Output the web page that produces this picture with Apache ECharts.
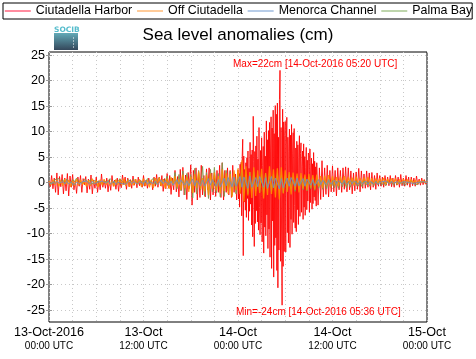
<!DOCTYPE html>
<html><head><meta charset="utf-8">
<script src="https://cdn.jsdelivr.net/npm/echarts@6/dist/echarts.min.js"></script>
<style>html,body{margin:0;padding:0;background:#fff}#c{width:476px;height:359px}</style>
</head><body><div id="c"></div>
<script>
const seriesNames = ['Ciutadella Harbor', 'Off Ciutadella', 'Menorca Channel', 'Palma Bay'];
const xTickDates = ['13-Oct-2016', '13-Oct', '14-Oct', '14-Oct', '15-Oct'];
const xTickTimes = ['00:00 UTC', '12:00 UTC', '00:00 UTC', '12:00 UTC', '00:00 UTC'];
const yTicks = [-25, -20, -15, -10, -5, 0, 5, 10, 15, 20, 25];
const maxLabel = 'Max=22cm [14-Oct-2016 05:20 UTC]';
const minLabel = 'Min=-24cm [14-Oct-2016 05:36 UTC]';
// sampling (minutes) and segment starts (hours from 13-Oct-2016 00:00 UTC)
const harborEarlyStart = 0, harborEarlyStepMin = 10;
const harborBurstStart = 24, harborBurstStepMin = 4;
const harborLateStart = 34, harborLateStepMin = 10;
const otherStepMin = 15;

// Ciutadella Harbor, 13-Oct 00:00 - 13-Oct 23:50, every 10 min
const harborEarly = [
0.3,-0.8,1.4,-1.2,0.9,-1.9, 1.9,-2.4,1.2,-0.8,1.6,-2.2, 0.9,-1.6,1.8,-2.6,1.3,-0.9,
1.6,-1.4,0.4,-2.1,1.1,-0.7, 1.4,-1.9,0.8,-0.4,1.2,-2.0, 0.7,-1.3,1.5,-2.2,0.5,-1.1,
1.1,-1.9,0.4,-1.4,1.7,-0.9, 0.4,-1.1,0.9,-1.8,0.7,-1.5, 1.4,-0.7,0.5,-1.3,0.9,-1.7,
0.7,-1.0,1.5,-0.4,1.1,-1.3, 0.9,-0.8,0.6,-1.1,1.3,-0.5, 0.7,-1.0,1.1,-0.6,0.4,-0.9,
1.4,-0.7,0.5,-1.1,0.9,-0.4, 0.5,-1.4,1.1,-0.7,1.6,-0.9, 1.1,-0.6,1.4,-1.7,0.8,-1.2,
1.8,-1.0,1.4,-2.3,0.9,-1.4, 2.4,-1.8,1.2,-2.8,2.6,-1.5, 3.0,-2.4,1.5,-3.3,2.0,-1.1,
3.5,-4.4,2.4,-1.9,2.9,-3.4, 2.0,-2.9,3.4,-2.4,1.4,-2.8, 2.7,-1.4,2.9,-3.4,1.9,-2.4,
1.4,-2.7,2.4,-1.9,3.4,-2.9, 3.9,-3.4,2.4,-1.9,2.9,-2.4, 2.4,-2.9,3.4,-1.9,1.7,-3.4
];
// Ciutadella Harbor, 14-Oct 00:00 - 09:56, every 4 min
const harborBurst = [
2.5,-3.2,1.8,-4.8,3.6,-2.1,4.0,-6.5,5.1,8.5,-14.3,5.2,-3.8,2.6,-5.4,
3.9,-6.8,4.9,-3.1,6.2,-7.4,2.8,-5.6,7.9,-4.2,5.5,-8.3,6.4,-10.6,13.0,
4.1,-12.5,6.1,-8.0,7.2,-5.5,9.1,-7.7,4.6,-9.3,10.8,-4.9,-10.2,6.3,-7.9,
8.8,-11.6,3.4,7.1,-13.8,9.9,-8.7,5.2,-10.4,12.1,-6.3,8.4,-12.9,10.2,-9.1,
11.8,-14.6,6.2,12.9,-16.8,10.7,-7.5,14.2,-18.5,9.6,-12.3,15.1,-10.8,13.4,-17.2,
15.6,-20.6,8.9,-13.2,16.3,22.0,-15.4,10.8,-9.9,-24.0,14.4,-16.4,11.9,-13.5,9.2,
12.0,-13.6,7.4,12.8,-9.8,8.9,-11.8,6.1,10.5,-12.7,9.3,-7.2,11.4,-10.1,5.8,
9.8,-7.8,10.6,-4.5,-8.9,6.8,-9.6,8.1,-5.3,7.4,-8.2,4.9,9.2,-6.6,5.7,
7.8,-5.8,3.2,6.2,-7.2,7.6,-4.8,5.1,-6.4,2.9,6.9,-5.3,4.4,-3.6,5.8,
5.4,-5.8,6.6,-3.9,2.1,4.8,-5.2,3.7,-4.1,5.9,-2.8,4.2,-3.5,3.1,-4.6
];
// Ciutadella Harbor, 14-Oct 10:00 - 15-Oct 00:00, every 10 min
const harborLate = [
3.9,-4.4,2.9,-3.3,4.3,-2.8, 2.9,-2.3,3.4,-2.8,2.4,-1.8,
3.3,-1.8,2.4,-2.6,2.9,-1.4, 2.4,-1.9,2.9,-1.3,3.1,-1.8, 2.9,-1.4,2.3,-2.2,1.9,-1.6,
2.1,-1.3,2.8,-1.8,2.3,-1.1, 1.7,-1.1,2.3,-0.9,1.9,-1.4, 2.0,-0.9,1.4,-1.3,1.9,-0.7,
1.4,-0.7,1.1,-0.9,1.4,-0.5, 1.1,-0.6,1.4,-0.8,0.9,-0.9, 1.4,-0.5,1.1,-0.9,1.6,-0.6,
0.9,-0.7,1.4,-0.5,1.1,-0.9, 1.1,-0.6,0.9,-0.7,1.3,-0.4, 0.7,-0.5,0.9,-0.4,0.6,-0.3,
0.2
];

const offCiutadella = [
0.3,-0.5,0.6,-0.4, 0.5,-0.7,0.4,-0.6, 0.7,-0.3,0.5,-0.8, 0.4,-0.6,0.7,-0.5,
0.6,-0.4,0.3,-0.7, 0.5,-0.6,0.8,-0.3, 0.4,-0.8,0.6,-0.5, 0.7,-0.4,0.5,-0.6,
0.3,-0.7,0.6,-0.4, 0.6,-0.5,0.8,-0.6, 0.5,-0.8,0.4,-0.5, 0.7,-0.4,0.6,-0.8,
0.8,-0.6,0.5,-0.9, 0.6,-1.0,0.9,-0.5, 1.0,-0.7,0.6,-1.1, 0.8,-1.2,1.1,-0.6,
1.3,-0.9,0.7,-1.4, 1.6,-1.1,1.2,-1.8, 1.2,-2.0,1.7,-1.0, 2.2,-1.3,0.9,-1.7,
1.5,-2.4,1.8,-1.2, 2.0,-1.5,1.3,-2.1, 2.6,-1.6,1.9,-2.2, 1.7,-2.8,2.4,-1.5,
2.8,-2.2,4.4,-3.7, 3.2,-2.5,2.1,-3.0, 3.0,-2.6,2.4,-2.0, 2.7,-3.1,1.9,-2.4,
3.2,-2.2,2.6,-2.9, 2.8,-3.3,3.0,-2.1, 2.4,-1.8,2.1,-2.3, 2.0,-1.4,1.8,-1.9,
1.9,-1.2,1.6,-1.5, 1.7,-1.0,1.5,-1.3, 1.6,-0.8,1.3,-1.1, 1.4,-0.6,1.5,-0.9,
1.3,-0.5,1.1,-0.7, 1.2,-0.4,1.3,-0.6, 1.1,-0.3,1.0,-0.5, 1.2,-0.4,0.9,-0.3,
1.0,-0.2,1.1,-0.4, 0.9,-0.3,0.8,-0.2, 0.8,-0.1,0.9,-0.3, 0.7,-0.2,0.8,-0.1,
0.8,-0.3,0.6,-0.2, 0.7,0.0,0.6,-0.2, 0.6,-0.1,0.5,-0.2, 0.4,0.0,0.5,-0.1,
0.2
];

const menorcaChannel = [
0.1,-0.3,0.2,-0.2, 0.3,-0.1,-0.4,0.2, -0.2,0.3,-0.3,0.1, 0.2,-0.4,0.1,-0.2,
-0.3,0.2,-0.1,0.3, 0.1,-0.3,0.3,-0.2, -0.4,0.1,-0.2,0.3, 0.2,-0.1,0.4,-0.3,
-0.2,0.3,-0.4,0.1, 0.3,-0.2,0.1,-0.3, -0.1,0.4,-0.2,0.2, 0.3,-0.3,0.2,-0.1,
-0.2,0.4,-0.3,0.2, 0.4,-0.2,0.3,-0.4, -0.3,0.5,-0.2,0.3, 0.5,-0.4,0.3,-0.5,
-0.4,0.6,-0.3,0.5, 0.6,-0.5,0.4,-0.6, -0.5,0.7,-0.6,0.4, 0.7,-0.6,0.5,-0.7,
-0.6,0.8,-0.5,0.6, 0.8,-0.7,0.6,-0.8, -0.7,0.9,-0.6,1.0, 0.9,-0.8,1.1,-0.7,
-1.0,1.2,-0.9,1.1, 1.0,-1.1,1.3,-0.9, -1.2,1.0,-0.8,1.2, 1.1,-0.9,1.0,-1.1,
-0.9,1.2,-1.0,0.9, 1.0,-1.2,0.8,-1.0, -0.8,0.9,-0.7,1.0, 0.8,-0.7,0.9,-0.6,
-0.6,0.8,-0.7,0.7, 0.7,-0.5,0.6,-0.6, -0.5,0.6,-0.4,0.5, 0.5,-0.4,0.6,-0.3,
-0.4,0.5,-0.3,0.4, 0.4,-0.3,0.5,-0.4, -0.3,0.4,-0.2,0.3, 0.3,-0.3,0.4,-0.2,
-0.2,0.3,-0.3,0.2, 0.3,-0.2,0.2,-0.3, -0.2,0.2,-0.1,0.3, 0.2,-0.2,0.3,-0.1,
-0.1,0.2,-0.2,0.1, 0.2,-0.1,0.1,-0.2, -0.1,0.2,-0.1,0.1, 0.1,-0.1,0.2,0.0,
0.0
];

const palmaBay = [
0.2,0.5,-0.2,0.6, 0.3,0.8,0.1,0.6, -0.2,0.7,0.4,-0.1, 0.6,0.2,0.9,0.3,
0.5,-0.2,0.7,0.4, 0.1,0.6,-0.3,0.4, 0.7,0.2,0.5,-0.2, 0.3,0.6,0.1,0.8,
0.4,-0.1,0.6,0.2, 0.8,0.3,0.5,-0.2, 0.6,0.9,0.2,0.7, 0.3,-0.3,0.6,0.2,
0.5,0.1,0.8,-0.2, 0.4,0.9,-0.3,0.6, 1.0,-0.4,0.7,0.2, 1.3,-0.8,0.9,-0.5,
2.0,-1.2,1.6,-1.6, 2.3,-2.4,1.8,-1.2, 1.6,-3.0,2.8,-2.2, 2.4,-1.4,3.2,-2.6,
2.0,-3.1,2.6,-1.8, 3.0,-2.0,1.8,-2.8, 3.9,-2.7,2.4,-1.6, 2.2,-2.5,1.5,-2.2,
1.8,-1.4,2.9,-2.0, 1.5,-2.2,2.1,-1.3, 2.0,-1.6,1.4,-1.9, 1.6,-2.1,1.9,-1.2,
1.3,-1.8,1.6,-1.5, 1.8,-1.2,1.4,-2.0, 1.2,-1.5,1.6,-1.1, 1.0,-1.7,1.2,-1.3,
0.8,-1.4,1.1,-1.6, 0.6,-1.2,0.9,-1.5, 0.7,-1.1,0.5,-1.3, 0.4,-1.2,0.6,-0.9,
0.5,-1.0,0.3,-1.1, 0.6,-0.8,0.4,-1.0, 0.3,-0.9,0.5,-0.6, 0.4,-0.7,0.2,-0.8,
0.5,-0.5,0.3,-0.7, 0.2,-0.6,0.4,-0.4, 0.3,-0.5,0.1,-0.6, 0.4,-0.3,0.2,-0.5,
0.1,-0.4,0.3,-0.3, 0.2,-0.5,0.0,-0.3, 0.3,-0.2,0.1,-0.4, 0.0,-0.3,0.2,-0.1,
0.1
];

const lineColors = ['#ff0000', '#ff8c00', '#6f8fbf', '#7f9a50'];
const legendColors = ['#ff7088', '#ffbf80', '#a6c0e2', '#aecb98'];

function toPoints(arr, startHour, stepMin) {
  return arr.map((v, i) => [startHour + i * stepMin / 60, v]);
}

const chart = echarts.init(document.getElementById('c'), null, { renderer: 'canvas' });
const font = '"Liberation Sans", Helvetica, Arial, sans-serif';
const seriesData = {
  'Ciutadella Harbor': toPoints(harborEarly, harborEarlyStart, harborEarlyStepMin)
    .concat(toPoints(harborBurst, harborBurstStart, harborBurstStepMin))
    .concat(toPoints(harborLate, harborLateStart, harborLateStepMin)),
  'Off Ciutadella': toPoints(offCiutadella, 0, otherStepMin),
  'Menorca Channel': toPoints(menorcaChannel, 0, otherStepMin),
  'Palma Bay': toPoints(palmaBay, 0, otherStepMin)
};
const drawOrder = ['Ciutadella Harbor', 'Palma Bay', 'Off Ciutadella', 'Menorca Channel'];

const option = {
  animation: false,
  backgroundColor: '#fff',
  title: {
    text: 'Sea level anomalies (cm)',
    left: 'center', top: 27, padding: 0,
    textStyle: { fontSize: 17, fontWeight: 'normal', color: '#000', fontFamily: font }
  },
  legend: {
    left: 3, top: 3, width: 476, padding: [2, 0, 2, 1],
    borderColor: '#000', borderWidth: 1,
    itemWidth: 26, itemHeight: 10, itemGap: 4,
    textStyle: { fontSize: 12.4, color: '#000', fontFamily: font },
    itemStyle: { opacity: 0 },
    data: seriesNames.map((n, i) => ({ name: n, lineStyle: { color: legendColors[i], width: 1.6, opacity: 1 } }))
  },
  grid: { left: 49, right: 49, top: 52, bottom: 37, show: true, borderColor: '#000', borderWidth: 1, containLabel: false },
  xAxis: [{
    type: 'value', min: 0, max: 48, interval: 3,
    axisLine: { show: false },
    axisTick: { inside: true, length: 3, lineStyle: { color: '#999' } },
    splitLine: { show: true, lineStyle: { color: '#c8c8c8', type: [1, 3], width: 1 } },
    axisLabel: {
      margin: 3, showMinLabel: true, showMaxLabel: true, interval: 0,
      formatter: v => (v % 12 === 0 ? '{a|' + xTickDates[v / 12] + '}\n{b|' + xTickTimes[v / 12] + '}' : ''),
      rich: {
        a: { fontSize: 12.6, color: '#000', fontFamily: font, lineHeight: 15 },
        b: { fontSize: 10, color: '#000', fontFamily: font, lineHeight: 12 }
      }
    }
  }, {
    type: 'value', min: 0, max: 48, interval: 3, position: 'top',
    axisLine: { show: false },
    axisTick: { inside: true, length: 3, lineStyle: { color: '#999' } },
    splitLine: { show: false }, axisLabel: { show: false }
  }],
  yAxis: [{
    type: 'value', min: -27.3, max: 25.6,
    axisLine: { show: false },
    axisTick: { inside: true, length: 3, customValues: yTicks, lineStyle: { color: '#999' } },
    splitLine: { show: true, lineStyle: { color: '#c8c8c8', type: [1, 3], width: 1 } },
    axisLabel: { customValues: yTicks, margin: 4, fontSize: 12.6, color: '#000', fontFamily: font }
  }, {
    type: 'value', min: -27.3, max: 25.6, position: 'right',
    axisLine: { show: false },
    axisTick: { inside: true, length: 3, customValues: yTicks, lineStyle: { color: '#999' } },
    splitLine: { show: false }, axisLabel: { show: false }
  }],
  graphic: [
    { type: 'text', left: 54, top: 26, z: 10, style: { text: 'SOCIB', fill: '#55bccc', fontSize: 7.5, fontWeight: 'bold', fontFamily: 'DejaVu Sans' } },
    { type: 'rect', left: 54, top: 33, z: 10, shape: { width: 24, height: 17 },
      style: { fill: new echarts.graphic.LinearGradient(0, 0, 0, 1, [{ offset: 0, color: '#62aab8' }, { offset: 1, color: '#34475a' }]) } },
    { type: 'line', left: 71, top: 35, z: 11, shape: { x1: 0, y1: 0, x2: 0, y2: 12 }, style: { stroke: '#fff', lineWidth: 1, lineDash: [1, 2] } },
    { type: 'text', left: 233, top: 59, z: 10, style: { text: maxLabel, fill: '#ff0000', fontSize: 10, fontFamily: font } },
    { type: 'text', left: 236, top: 307, z: 10, style: { text: minLabel, fill: '#ff0000', fontSize: 10, fontFamily: font } }
  ],
  series: drawOrder.map(n => {
    const i = seriesNames.indexOf(n);
    return {
      name: n, type: 'line', xAxisIndex: 0, yAxisIndex: 0,
      data: seriesData[n], showSymbol: false, symbol: 'none', clip: true,
      lineStyle: { color: lineColors[i], width: i === 1 ? 1.2 : 1, opacity: i === 0 ? 0.85 : 0.9 },
      itemStyle: { color: lineColors[i] },
      emphasis: { disabled: true }
    };
  })
};
chart.setOption(option);
</script>
</body></html>
